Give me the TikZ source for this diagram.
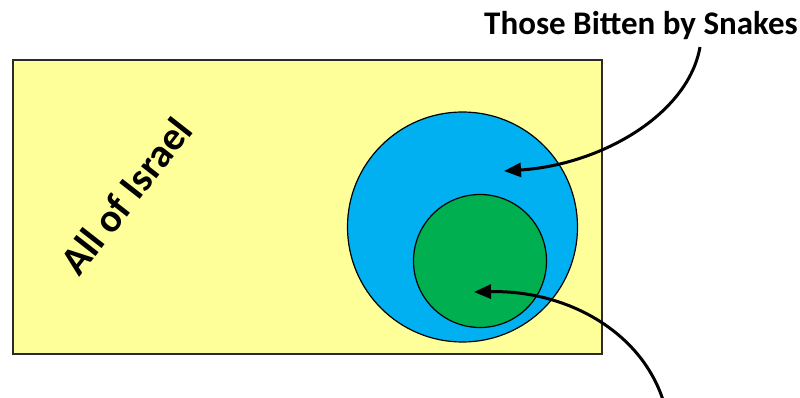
\documentclass[tikz,border=0pt]{standalone}
\usepackage{fontspec}
\setmainfont{Carlito}
\usetikzlibrary{arrows.meta}
\definecolor{israel}{HTML}{FFFF99}
\definecolor{bitten}{HTML}{00B0F0}
\definecolor{healed}{HTML}{00B050}
\definecolor{edge}{HTML}{2B2B2B}
\tikzset{
  region/.style={draw=black, line width=1.2pt, inner sep=0pt, outer sep=0pt},
  label/.style={font=\fontsize{33}{36}\selectfont\bfseries, inner sep=0pt},
  pointer/.style={line width=3pt, -{Triangle[length=17pt,width=14pt]}}
}
\begin{document}
\begin{tikzpicture}[x=1pt,y=-1pt]
\useasboundingbox (0,0) rectangle (800,398);
\node[region, draw=edge, fill=israel, minimum width=589pt, minimum height=294pt, anchor=north west] (all) at (13,60) {};
\node[region, circle, fill=bitten, minimum size=230pt] (bitten) at (462.5,227) {};
\node[region, circle, fill=healed, minimum size=133pt] (healed) at (480,261) {};
\node[label, font=\fontsize{40}{44}\selectfont\bfseries, rotate=52] (israel) at (126,196) {All of Israel};
\node[label, anchor=base] (snakes) at (641,35) {Those Bitten by Snakes};
\coordinate (t1) at (504,171);
\coordinate (s2) at (663,400);
\coordinate (t2) at (474,292);
\draw[pointer] ([xshift=59pt,yshift=-12pt]snakes.base) .. controls (688,115) and (600,165) .. (t1);
\draw[pointer] (s2) .. controls (640,330) and (565,290) .. (t2);
\end{tikzpicture}
\end{document}
